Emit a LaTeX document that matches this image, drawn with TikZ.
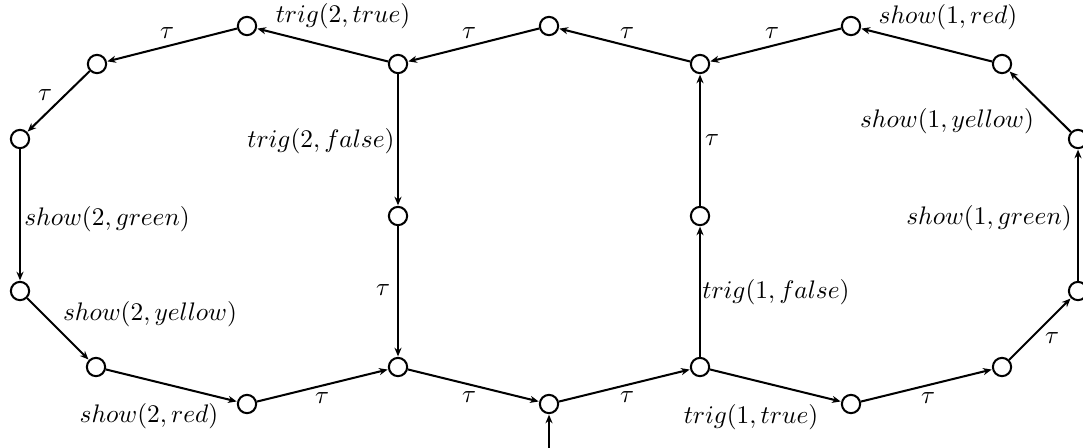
\documentclass[tikz,border=0pt]{standalone}
\usetikzlibrary{arrows.meta}
\begin{document}
\begin{tikzpicture}[x=0.394pt,y=-0.394pt,
  st/.style={circle,draw,line width=0.8pt,minimum size=7.2pt,inner sep=0pt},
  arr/.style={line width=0.8pt,-{Stealth[length=3.4pt,width=2.8pt,inset=1.1pt]},shorten >=0.2pt},
  lbl/.style={inner sep=0pt,anchor=center}]
\useasboundingbox (0,0) rectangle (1083,447);
\node[st] (A) at (247,26) {};
\node[st] (B) at (97,64) {};
\node[st] (C) at (20,139) {};
\node[st] (D) at (20,291) {};
\node[st] (E) at (96,367) {};
\node[st] (F) at (247,404) {};
\node[st] (G) at (398,367) {};
\node[st] (H) at (398,216) {};
\node[st] (I) at (398,64) {};
\node[st] (J) at (549,26) {};
\node[st] (K) at (700,64) {};
\node[st] (L) at (700,216) {};
\node[st] (M) at (700,367) {};
\node[st] (N) at (549,404) {};
\node[st] (O) at (851,404) {};
\node[st] (P) at (1002,367) {};
\node[st] (Q) at (1078,291) {};
\node[st] (R) at (1078,139) {};
\node[st] (S) at (1002,64) {};
\node[st] (T) at (851,26) {};
\coordinate (start) at (549,450);

\draw[arr] (start) -- (N);
\draw[arr] (I) -- (A) node[lbl] at (343,16) {$trig(2, true)$};
\draw[arr] (A) -- (B) node[lbl] at (167,33) {$\tau$};
\draw[arr] (B) -- (C) node[lbl] at (45,95) {$\tau$};
\draw[arr] (C) -- (D) node[lbl] at (107,219) {$show(2, green)$};
\draw[arr] (D) -- (E) node[lbl] at (150,314) {$show(2, yellow)$};
\draw[arr] (E) -- (F) node[lbl] at (149,416) {$show(2, red)$};
\draw[arr] (F) -- (G) node[lbl] at (322,398) {$\tau$};
\draw[arr] (I) -- (H) node[lbl] at (321,141) {$trig(2, false)$};
\draw[arr] (H) -- (G) node[lbl] at (383,290) {$\tau$};
\draw[arr] (G) -- (N) node[lbl] at (469,397) {$\tau$};
\draw[arr] (N) -- (M) node[lbl] at (627,397) {$\tau$};
\draw[arr] (M) -- (O) node[lbl] at (751,417) {$trig(1, true)$};
\draw[arr] (O) -- (P) node[lbl] at (928,398) {$\tau$};
\draw[arr] (P) -- (Q) node[lbl] at (1052,338) {$\tau$};
\draw[arr] (Q) -- (R) node[lbl] at (989,218) {$show(1, green)$};
\draw[arr] (R) -- (S) node[lbl] at (947,121) {$show(1, yellow)$};
\draw[arr] (S) -- (T) node[lbl] at (948,17) {$show(1, red)$};
\draw[arr] (T) -- (K) node[lbl] at (772,33) {$\tau$};
\draw[arr] (M) -- (L) node[lbl] at (776,292) {$trig(1, false)$};
\draw[arr] (L) -- (K) node[lbl] at (712,140) {$\tau$};
\draw[arr] (K) -- (J) node[lbl] at (627,33) {$\tau$};
\draw[arr] (J) -- (I) node[lbl] at (469,33) {$\tau$};
\end{tikzpicture}
\end{document}
